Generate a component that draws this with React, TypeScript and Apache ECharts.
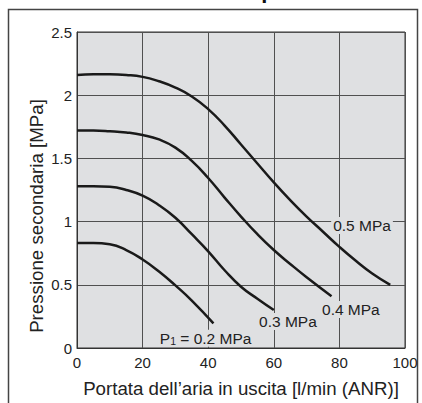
import React, { useEffect, useRef } from "react";
import * as echarts from "echarts";

const flowP02 = [0, 5, 10, 15, 20, 25, 30, 35, 41.6];
const presP02 = [0.83, 0.83, 0.82, 0.775, 0.70, 0.605, 0.495, 0.375, 0.195];

const flowP03 = [0, 5, 10, 15, 20, 25, 30, 35, 40, 45, 50, 55, 60];
const presP03 = [1.28, 1.28, 1.275, 1.25, 1.205, 1.13, 1.03, 0.90, 0.765, 0.615, 0.485, 0.39, 0.30];

const flowP04 = [0, 5, 10, 15, 20, 25, 30, 35, 40, 45, 50, 55, 60, 65, 70, 77.6];
const presP04 = [1.72, 1.72, 1.715, 1.705, 1.685, 1.65, 1.585, 1.48, 1.345, 1.19, 1.04, 0.90, 0.775, 0.665, 0.56, 0.41];

const flowP05 = [0, 5, 10, 15, 20, 25, 30, 35, 40, 45, 50, 55, 60, 65, 70, 75, 80, 85, 90, 95.5];
const presP05 = [2.16, 2.165, 2.165, 2.16, 2.145, 2.11, 2.06, 1.99, 1.89, 1.76, 1.61, 1.46, 1.31, 1.17, 1.04, 0.92, 0.80, 0.69, 0.59, 0.5];

const curveLabels = ["P1 = 0.2 MPa", "0.3 MPa", "0.4 MPa", "0.5 MPa"];
const labelX = [39.2, 64.3, 83.5, 86.9];
const labelY = [0.077, 0.21, 0.305, 0.97];

const xTitle = "Portata dell’aria in uscita [l/min (ANR)]";
const yTitle = "Pressione secondaria [MPa]";

const FONT = "'Liberation Sans', Arial, sans-serif";
const PLOT_BG = "#dfe0e2";

export default function App() {
  const ref = useRef<HTMLDivElement>(null);
  useEffect(() => {
    if (!ref.current) return;
    const chart = echarts.init(ref.current, undefined, { renderer: "svg" });
    const flows = [flowP02, flowP03, flowP04, flowP05];
    const press = [presP02, presP03, presP04, presP05];
    const series: any[] = flows.map((fx, i) => ({
      type: "line",
      data: fx.map((x, j) => [x, press[i][j]]),
      smooth: 0.5,
      showSymbol: false,
      lineStyle: { color: "#1a1a1a", width: 2.5 },
      z: 3,
      markPoint: {
        symbol: "circle",
        symbolSize: 0,
        z: 5,
        data: [
          {
            coord: [labelX[i], labelY[i]],
            label: {
              show: true,
              position: "inside",
              formatter:
                i === 0
                  ? "{a|P}{s|1}{a| = 0.2 MPa}"
                  : curveLabels[i],
              color: "#222",
              fontFamily: FONT,
              fontSize: 15.5,
              backgroundColor: PLOT_BG,
              padding: [1, 2, 0, 2],
              rich: {
                a: { fontFamily: FONT, fontSize: 15.5, color: "#222" },
                s: { fontFamily: FONT, fontSize: 10.5, color: "#222", verticalAlign: "bottom", padding: [4, 0, 0, 0] },
              },
            },
          },
        ],
      },
    }));
    chart.setOption({
      animation: false,
      grid: {
        left: 77,
        right: 17,
        top: 32,
        bottom: 47,
        show: true,
        backgroundColor: PLOT_BG,
        borderColor: "#333",
        borderWidth: 1,
      },
      xAxis: {
        type: "value",
        min: 0,
        max: 100,
        interval: 20,
        name: xTitle,
        nameLocation: "middle",
        nameGap: 31,
        nameTextStyle: { fontFamily: FONT, fontSize: 18.7, color: "#222" },
        axisLine: { show: true, lineStyle: { color: "#333", width: 1 } },
        axisTick: { show: false },
        axisLabel: { fontFamily: FONT, fontSize: 15, color: "#222", margin: 7 },
        splitLine: { show: true, lineStyle: { color: "#505050", width: 1 } },
      },
      yAxis: {
        type: "value",
        min: 0,
        max: 2.5,
        interval: 0.5,
        axisLine: { show: true, lineStyle: { color: "#333", width: 1 } },
        axisTick: { show: false },
        axisLabel: { fontFamily: FONT, fontSize: 15, color: "#222", margin: 5 },
        splitLine: { show: true, lineStyle: { color: "#505050", width: 1 } },
      },
      graphic: [
        {
          type: "rect",
          shape: { x: 8.5, y: 9.5, width: 409, height: 420 },
          style: { fill: "none", stroke: "#444", lineWidth: 1.5 },
          silent: true,
        },
        {
          type: "text",
          x: 36,
          y: 216,
          rotation: Math.PI / 2,
          style: {
            text: yTitle,
            font: "18.7px " + FONT,
            fill: "#222",
            textAlign: "center",
            textVerticalAlign: "middle",
          },
          silent: true,
        },
        {
          type: "text",
          x: 268,
          y: -21,
          style: { text: "p", font: "bold 22px " + FONT, fill: "#111", textAlign: "center" },
          silent: true,
        },
      ],
      series,
    });
    return () => chart.dispose();
  }, []);
  return (
    <div
      ref={ref}
      style={{ position: "fixed", left: 0, top: 0, width: 422, height: 403, background: "#fff" }}
    />
  );
}
